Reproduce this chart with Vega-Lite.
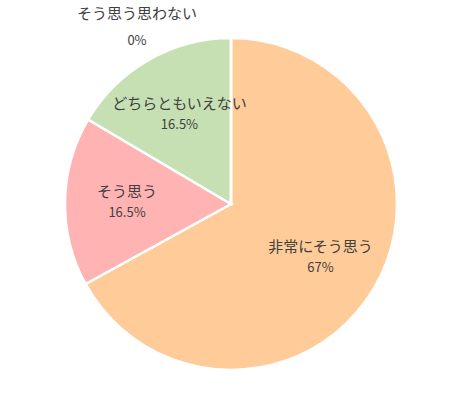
{
  "$schema": "https://vega.github.io/schema/vega-lite/v6.json",
  "autosize": {"type": "none"},
  "width": 332,
  "height": 332,
  "padding": {"left": 65, "top": 38, "right": 58, "bottom": 28},
  "background": "white",
  "config": {"view": {"stroke": null}},
  "data": {
    "values": [
      {"回答": "非常にそう思う", "割合": 0.67, "順": 1},
      {"回答": "そう思う", "割合": 0.165, "順": 2},
      {"回答": "どちらともいえない", "割合": 0.165, "順": 3},
      {"回答": "そう思う思わない", "割合": 0, "順": 4}
    ]
  },
  "encoding": {
    "theta": {"field": "割合", "type": "quantitative", "stack": true},
    "order": {"field": "順", "type": "quantitative", "sort": "ascending"}
  },
  "layer": [
    {
      "mark": {"type": "arc", "stroke": "white", "strokeWidth": 2.5},
      "encoding": {
        "color": {
          "field": "回答",
          "type": "nominal",
          "scale": {
            "domain": ["非常にそう思う", "そう思う", "どちらともいえない", "そう思う思わない"],
            "range": ["#FFCC99", "#FFB3B3", "#C6E0B4", "#BDD7EE"]
          },
          "legend": null
        }
      }
    },
    {
      "transform": [{"filter": "datum['割合'] > 0"}],
      "mark": {"type": "text", "radius": 104, "dy": -10, "font": "Noto Sans CJK JP", "fontSize": 15, "fill": "#404040"},
      "encoding": {"text": {"field": "回答"}}
    },
    {
      "transform": [{"filter": "datum['割合'] > 0"}],
      "mark": {"type": "text", "radius": 104, "dy": 11, "font": "Noto Sans CJK JP", "fontSize": 13, "fill": "#404040"},
      "encoding": {"text": {"field": "割合", "type": "quantitative", "format": ".1~%"}}
    },
    {
      "transform": [{"filter": "datum['割合'] == 0"}],
      "mark": {"type": "text", "radius": 178, "dx": -94, "dy": -12, "font": "Noto Sans CJK JP", "fontSize": 15, "fill": "#404040"},
      "encoding": {"text": {"field": "回答"}}
    },
    {
      "transform": [{"filter": "datum['割合'] == 0"}],
      "mark": {"type": "text", "radius": 178, "dx": -94, "dy": 15, "font": "Noto Sans CJK JP", "fontSize": 13, "fill": "#404040"},
      "encoding": {"text": {"field": "割合", "type": "quantitative", "format": ".1~%"}}
    }
  ]
}
